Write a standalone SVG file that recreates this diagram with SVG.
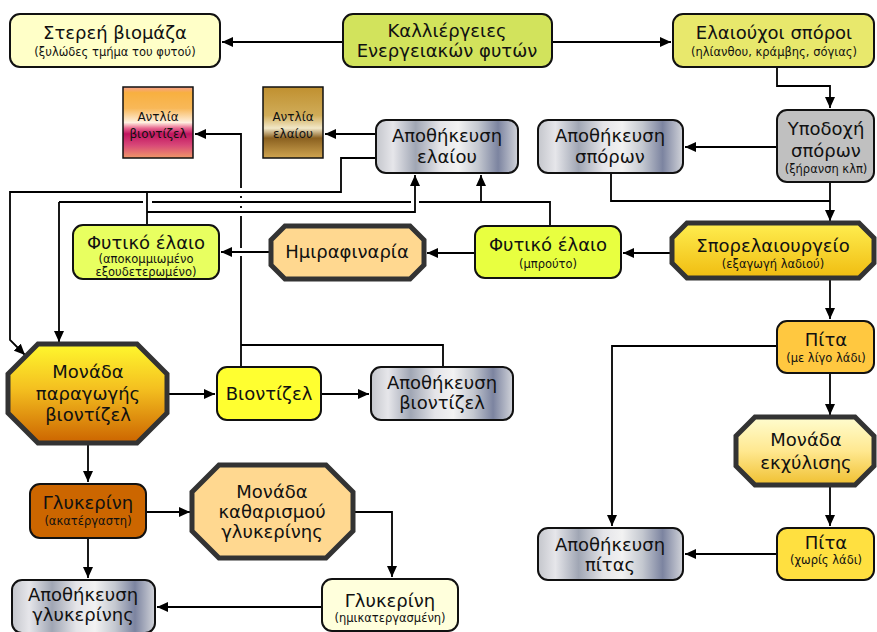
<svg xmlns="http://www.w3.org/2000/svg" width="877" height="632" viewBox="0 0 877 632">
<defs>
<marker id="ah" markerWidth="11" markerHeight="10" refX="11" refY="5" orient="auto" markerUnits="userSpaceOnUse"><path d="M0,0 L11,5 L0,10 z" fill="#000"/></marker>
<linearGradient id="metal" x1="0" y1="0" x2="1" y2="0">
<stop offset="0" stop-color="#C4C6CC"/><stop offset="0.12" stop-color="#E6E6EA"/><stop offset="0.28" stop-color="#A0A6B4"/><stop offset="0.45" stop-color="#E4E4E8"/><stop offset="0.58" stop-color="#F2F2F2"/><stop offset="0.72" stop-color="#C4C8D0"/><stop offset="0.86" stop-color="#7C84A0"/><stop offset="1" stop-color="#D2D4DA"/>
</linearGradient>
<linearGradient id="gBio" x1="0" y1="0" x2="0" y2="1">
<stop offset="0" stop-color="#F8A090"/><stop offset="0.08" stop-color="#F8B040"/><stop offset="0.3" stop-color="#F8B858"/><stop offset="0.5" stop-color="#FFF0E0"/><stop offset="0.58" stop-color="#E86890"/><stop offset="0.66" stop-color="#C01460"/><stop offset="0.82" stop-color="#D84878"/><stop offset="1" stop-color="#F09868"/>
</linearGradient>
<linearGradient id="gOil" x1="0" y1="0" x2="0" y2="1">
<stop offset="0" stop-color="#C09030"/><stop offset="0.4" stop-color="#D0AC58"/><stop offset="0.58" stop-color="#F2E8C8"/><stop offset="0.72" stop-color="#8A6020"/><stop offset="1" stop-color="#D0A550"/>
</linearGradient>
<linearGradient id="gProd" x1="0" y1="0" x2="0" y2="1">
<stop offset="0" stop-color="#FFF82E"/><stop offset="0.45" stop-color="#F4C020"/><stop offset="1" stop-color="#CC6400"/>
</linearGradient>
<linearGradient id="gSpor" x1="0" y1="0" x2="0" y2="1">
<stop offset="0" stop-color="#FFEE50"/><stop offset="1" stop-color="#F0BC10"/>
</linearGradient>
<linearGradient id="gEkx" x1="0" y1="0" x2="0" y2="1">
<stop offset="0" stop-color="#FFFDD0"/><stop offset="0.5" stop-color="#FFE890"/><stop offset="1" stop-color="#F0C030"/>
</linearGradient>
<style>
text{font-family:"DejaVu Sans",Verdana,sans-serif;fill:#111;text-anchor:middle}
.t{font-size:18px}
.s{font-size:11.5px}
.p{font-size:12px}
.box{stroke:#111;stroke-width:2}
.oct{stroke:#333;stroke-width:5;stroke-linejoin:miter}
.pump{stroke:#111;stroke-width:1.5}
.c{fill:none;stroke:#000;stroke-width:1.8}
.a{marker-end:url(#ah)}
</style>
</defs>

<g id="connectors">
<path class="c a" d="M343,42 H222"/>
<path class="c a" d="M552,42 H671"/>
<path class="c a" d="M777,67 V86 H830 V108"/>
<path class="c a" d="M777,147 H685"/>
<path class="c" d="M611,173 V201 H830"/>
<path class="c a" d="M830,182 V221"/>
<path class="c a" d="M672,253 H623"/>
<path class="c a" d="M475,253 H427"/>
<path class="c a" d="M270,252 H221"/>
<path class="c a" d="M376,134 H325"/>
<path class="c a" d="M376,158 H341 V192 H10 V340 L25,355"/>
<path class="c" d="M147,225 V192"/>
<path class="c a" d="M147,212 H415 V175"/>
<path class="c" d="M550,226 V202 H419 M411,202 H152 M143,202 H59"/>
<path class="c a" d="M59,202 V342"/>
<path class="c a" d="M481,202 V175"/>
<path class="c a" d="M241,345 V256 M241,248 V216 M241,208 V206 M241,198 V196 M241,188 V134 H195"/>
<path class="c" d="M241,367 V345"/>
<path class="c" d="M443,367 V345 H241"/>
<path class="c a" d="M167,394 H215"/>
<path class="c a" d="M321,394 H369"/>
<path class="c a" d="M88,443 V482"/>
<path class="c a" d="M146,512 H190"/>
<path class="c a" d="M353,512 H392 V577"/>
<path class="c a" d="M322,607 H157"/>
<path class="c a" d="M88,538 V578"/>
<path class="c a" d="M830,278 V319"/>
<path class="c a" d="M830,373 V415"/>
<path class="c a" d="M830,485 V526"/>
<path class="c a" d="M777,554 H685"/>
<path class="c a" d="M777,346 H612 V526"/>
</g>

<g id="stereh-viomaza">
<rect class="box" x="10" y="14" width="210" height="53" rx="10" fill="#FFFFC8"/>
<text class="t" x="115" y="39">Στερεή βιομάζα</text>
<text class="s" x="115" y="56">(ξυλώδες τμήμα του φυτού)</text>
</g>
<g id="kalliergeies">
<rect class="box" x="343" y="14" width="209" height="53" rx="10" fill="#D2E35C"/>
<text class="t" x="447" y="37">Καλλιέργειες</text>
<text class="t" x="447" y="57">Ενεργειακών φυτών</text>
</g>
<g id="elaiouxoi-sporoi">
<rect class="box" x="673" y="14" width="201" height="53" rx="10" fill="#E8E86C"/>
<text class="t" x="774" y="39">Ελαιούχοι σπόροι</text>
<text class="s" x="774" y="56">(ηλίανθου, κράμβης, σόγιας)</text>
</g>
<g id="ypodoxi-sporon">
<rect class="box" x="777" y="110" width="97" height="72" rx="10" fill="#C0C0C0"/>
<text class="t" x="826" y="135">Υποδοχή</text>
<text class="t" x="826" y="157">σπόρων</text>
<text class="s" x="826" y="173">(ξήρανση κλπ)</text>
</g>
<g id="apothikeusi-sporon">
<rect class="box" x="538" y="120" width="145" height="53" rx="10" fill="url(#metal)"/>
<text class="t" x="610" y="142">Αποθήκευση</text>
<text class="t" x="610" y="163">σπόρων</text>
</g>
<g id="sporelaiourgeio">
<polygon class="oct" points="687,223 859,223 874,238 874,263 859,278 687,278 672,263 672,238" fill="url(#gSpor)"/>
<text class="t" x="773" y="252">Σπορελαιουργείο</text>
<text class="s" x="773" y="268">(εξαγωγή λαδιού)</text>
</g>
<g id="fytiko-elaio-brouto">
<rect class="box" x="475" y="226" width="146" height="52" rx="10" fill="#E8FF40"/>
<text class="t" x="548" y="251">Φυτικό έλαιο</text>
<text class="s" x="548" y="268">(μπρούτο)</text>
</g>
<g id="imirafinaria">
<polygon class="oct" points="285,226 410,226 424,240 424,265 410,279 285,279 271,265 271,240" fill="#FFD890"/>
<text class="t" x="347" y="258">Ημιραφιναρία</text>
</g>
<g id="fytiko-elaio-exoudeterwmeno">
<rect class="box" x="73" y="225" width="146" height="54" rx="10" fill="#E8FF60"/>
<text class="t" x="146" y="249">Φυτικό έλαιο</text>
<text class="s" x="146" y="263">(αποκομμιωμένο</text>
<text class="s" x="146" y="276">εξουδετερωμένο)</text>
</g>
<g id="antlia-viontizel">
<rect class="pump" x="123" y="87" width="70" height="71" fill="url(#gBio)"/>
<text class="p" x="158" y="121">Αντλία</text>
<text class="p" x="158" y="138">βιοντίζελ</text>
</g>
<g id="antlia-elaiou">
<rect class="pump" x="263" y="87" width="60" height="71" fill="url(#gOil)"/>
<text class="p" x="293" y="121">Αντλία</text>
<text class="p" x="293" y="138">ελαίου</text>
</g>
<g id="apothikeusi-elaiou">
<rect class="box" x="376" y="120" width="142" height="53" rx="10" fill="url(#metal)"/>
<text class="t" x="447" y="142">Αποθήκευση</text>
<text class="t" x="447" y="163">ελαίου</text>
</g>
<g id="monada-paragogis">
<polygon class="oct" points="38,344 137,344 167,374 167,413 137,443 38,443 8,413 8,374" fill="url(#gProd)" stroke-width="6"/>
<text class="t" x="88" y="378">Μονάδα</text>
<text class="t" x="88" y="400">παραγωγής</text>
<text class="t" x="88" y="421">βιοντίζελ</text>
</g>
<g id="viontizel">
<rect class="box" x="217" y="367" width="104" height="53" rx="10" fill="#FFFF30"/>
<text class="t" x="269" y="400">Βιοντίζελ</text>
</g>
<g id="apothikeusi-viontizel">
<rect class="box" x="371" y="367" width="142" height="53" rx="10" fill="url(#metal)"/>
<text class="t" x="442" y="389">Αποθήκευση</text>
<text class="t" x="442" y="409">βιοντίζελ</text>
</g>
<g id="glykerini-akatergasti">
<rect class="box" x="30" y="484" width="116" height="54" rx="10" fill="#CC6600"/>
<text class="t" x="88" y="509">Γλυκερίνη</text>
<text class="s" x="88" y="525">(ακατέργαστη)</text>
</g>
<g id="monada-katharismou">
<polygon class="oct" points="219,465 326,465 353,492 353,531 326,558 219,558 192,531 192,492" fill="#FFD890"/>
<text class="t" x="272" y="498">Μονάδα</text>
<text class="t" x="272" y="518">καθαρισμού</text>
<text class="t" x="272" y="538">γλυκερίνης</text>
</g>
<g id="glykerini-imikatergasmeni">
<rect class="box" x="322" y="579" width="136" height="52" rx="10" fill="#FFFFDC"/>
<text class="t" x="390" y="607">Γλυκερίνη</text>
<text class="s" x="390" y="622">(ημικατεργασμένη)</text>
</g>
<g id="apothikeusi-glykerinis">
<rect class="box" x="12" y="580" width="143" height="53" rx="10" fill="url(#metal)"/>
<text class="t" x="83" y="601">Αποθήκευση</text>
<text class="t" x="83" y="621">γλυκερίνης</text>
</g>
<g id="pita-ligo-ladi">
<rect class="box" x="777" y="321" width="97" height="52" rx="10" fill="#FFC840"/>
<text class="t" x="826" y="346">Πίτα</text>
<text class="s" x="826" y="362">(με λίγο λάδι)</text>
</g>
<g id="monada-ekxylisis">
<polygon class="oct" points="755,417 855,417 874,436 874,466 855,485 755,485 736,466 736,436" fill="url(#gEkx)"/>
<text class="t" x="806" y="446">Μονάδα</text>
<text class="t" x="806" y="469">εκχύλισης</text>
</g>
<g id="pita-xoris-ladi">
<rect class="box" x="777" y="528" width="97" height="52" rx="10" fill="#FFE040"/>
<text class="t" x="826" y="549">Πίτα</text>
<text class="s" x="826" y="564">(χωρίς λάδι)</text>
</g>
<g id="apothikeusi-pitas">
<rect class="box" x="538" y="528" width="145" height="52" rx="10" fill="url(#metal)"/>
<text class="t" x="610" y="551">Αποθήκευση</text>
<text class="t" x="610" y="571">πίτας</text>
</g>
</svg>
